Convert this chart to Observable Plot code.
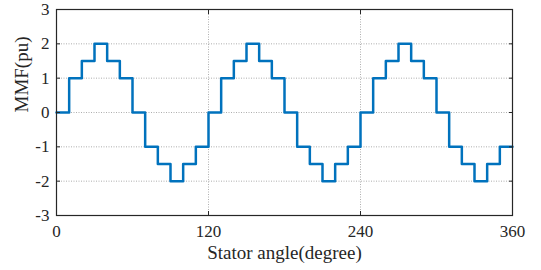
<!DOCTYPE html>
<html>
<head>
<meta charset="utf-8">
<script src="https://cdn.jsdelivr.net/npm/d3@7"></script>
<script src="https://cdn.jsdelivr.net/npm/@observablehq/plot@0.6"></script>
<style>
  html, body { margin: 0; padding: 0; background: #fff; }
  svg text { font-family: 'Liberation Serif', 'Times New Roman', serif; }
</style>
</head>
<body>
<div id="chart"></div>
<script>
const angles = [0, 10, 20, 30, 40, 50, 60, 70, 80, 90, 100, 110,
                120, 130, 140, 150, 160, 170, 180, 190, 200, 210, 220, 230,
                240, 250, 260, 270, 280, 290, 300, 310, 320, 330, 340, 350, 360];
const mmf = [0, 1, 1.5, 2, 1.5, 1, 0, -1, -1.5, -2, -1.5, -1,
             0, 1, 1.5, 2, 1.5, 1, 0, -1, -1.5, -2, -1.5, -1,
             0, 1, 1.5, 2, 1.5, 1, 0, -1, -1.5, -2, -1.5, -1, -1];
const xTicks = [0, 120, 240, 360];
const yTicks = [-3, -2, -1, 0, 1, 2, 3];
const xLabel = "Stator angle(degree)";
const yLabel = "MMF(pu)";

const data = angles.map((a, i) => ({angle: a, value: mmf[i]}));
const fmt = d => String(d);
const serif = "'Liberation Serif', 'Times New Roman', serif";

const chart = Plot.plot({
  width: 541,
  height: 270,
  marginLeft: 56,
  marginRight: 29,
  marginTop: 9,
  marginBottom: 55,
  style: {fontFamily: serif, fontSize: "16px", color: "#262626", background: "#fff"},
  x: {domain: [0, 360], ticks: xTicks},
  y: {domain: [-3, 3], ticks: yTicks},
  marks: [
    Plot.gridX(xTicks, {stroke: "#999", strokeOpacity: 1, strokeWidth: 0.8, strokeDasharray: "1,1.5"}),
    Plot.gridY(yTicks, {stroke: "#999", strokeOpacity: 1, strokeWidth: 0.8, strokeDasharray: "1,1.5"}),
    Plot.line(data, {x: "angle", y: "value", curve: "step-after", stroke: "#0072BD", strokeWidth: 2.5}),
    Plot.frame({stroke: "#262626", strokeWidth: 1.2}),
    Plot.axisX(xTicks, {anchor: "bottom", tickSize: -4, tickPadding: 13, tickFormat: fmt, label: null, stroke: "#262626", fontFamily: serif, fontSize: 17}),
    Plot.axisX(xTicks, {anchor: "top", tickSize: -4, tickFormat: () => "", label: null, stroke: "#262626"}),
    Plot.axisY(yTicks, {anchor: "left", tickSize: -4, tickPadding: 11, tickFormat: fmt, label: null, stroke: "#262626", fontFamily: serif, fontSize: 17}),
    Plot.axisY(yTicks, {anchor: "right", tickSize: -4, tickFormat: () => "", label: null, stroke: "#262626"}),
    Plot.text([xLabel], {frameAnchor: "bottom", dy: 43, fontSize: 19, fontFamily: serif, fill: "#262626"}),
    Plot.text([yLabel], {frameAnchor: "left", dx: -35, rotate: -90, fontSize: 19, fontFamily: serif, fill: "#262626"})
  ]
});
document.getElementById("chart").appendChild(chart);
</script>
</body>
</html>
